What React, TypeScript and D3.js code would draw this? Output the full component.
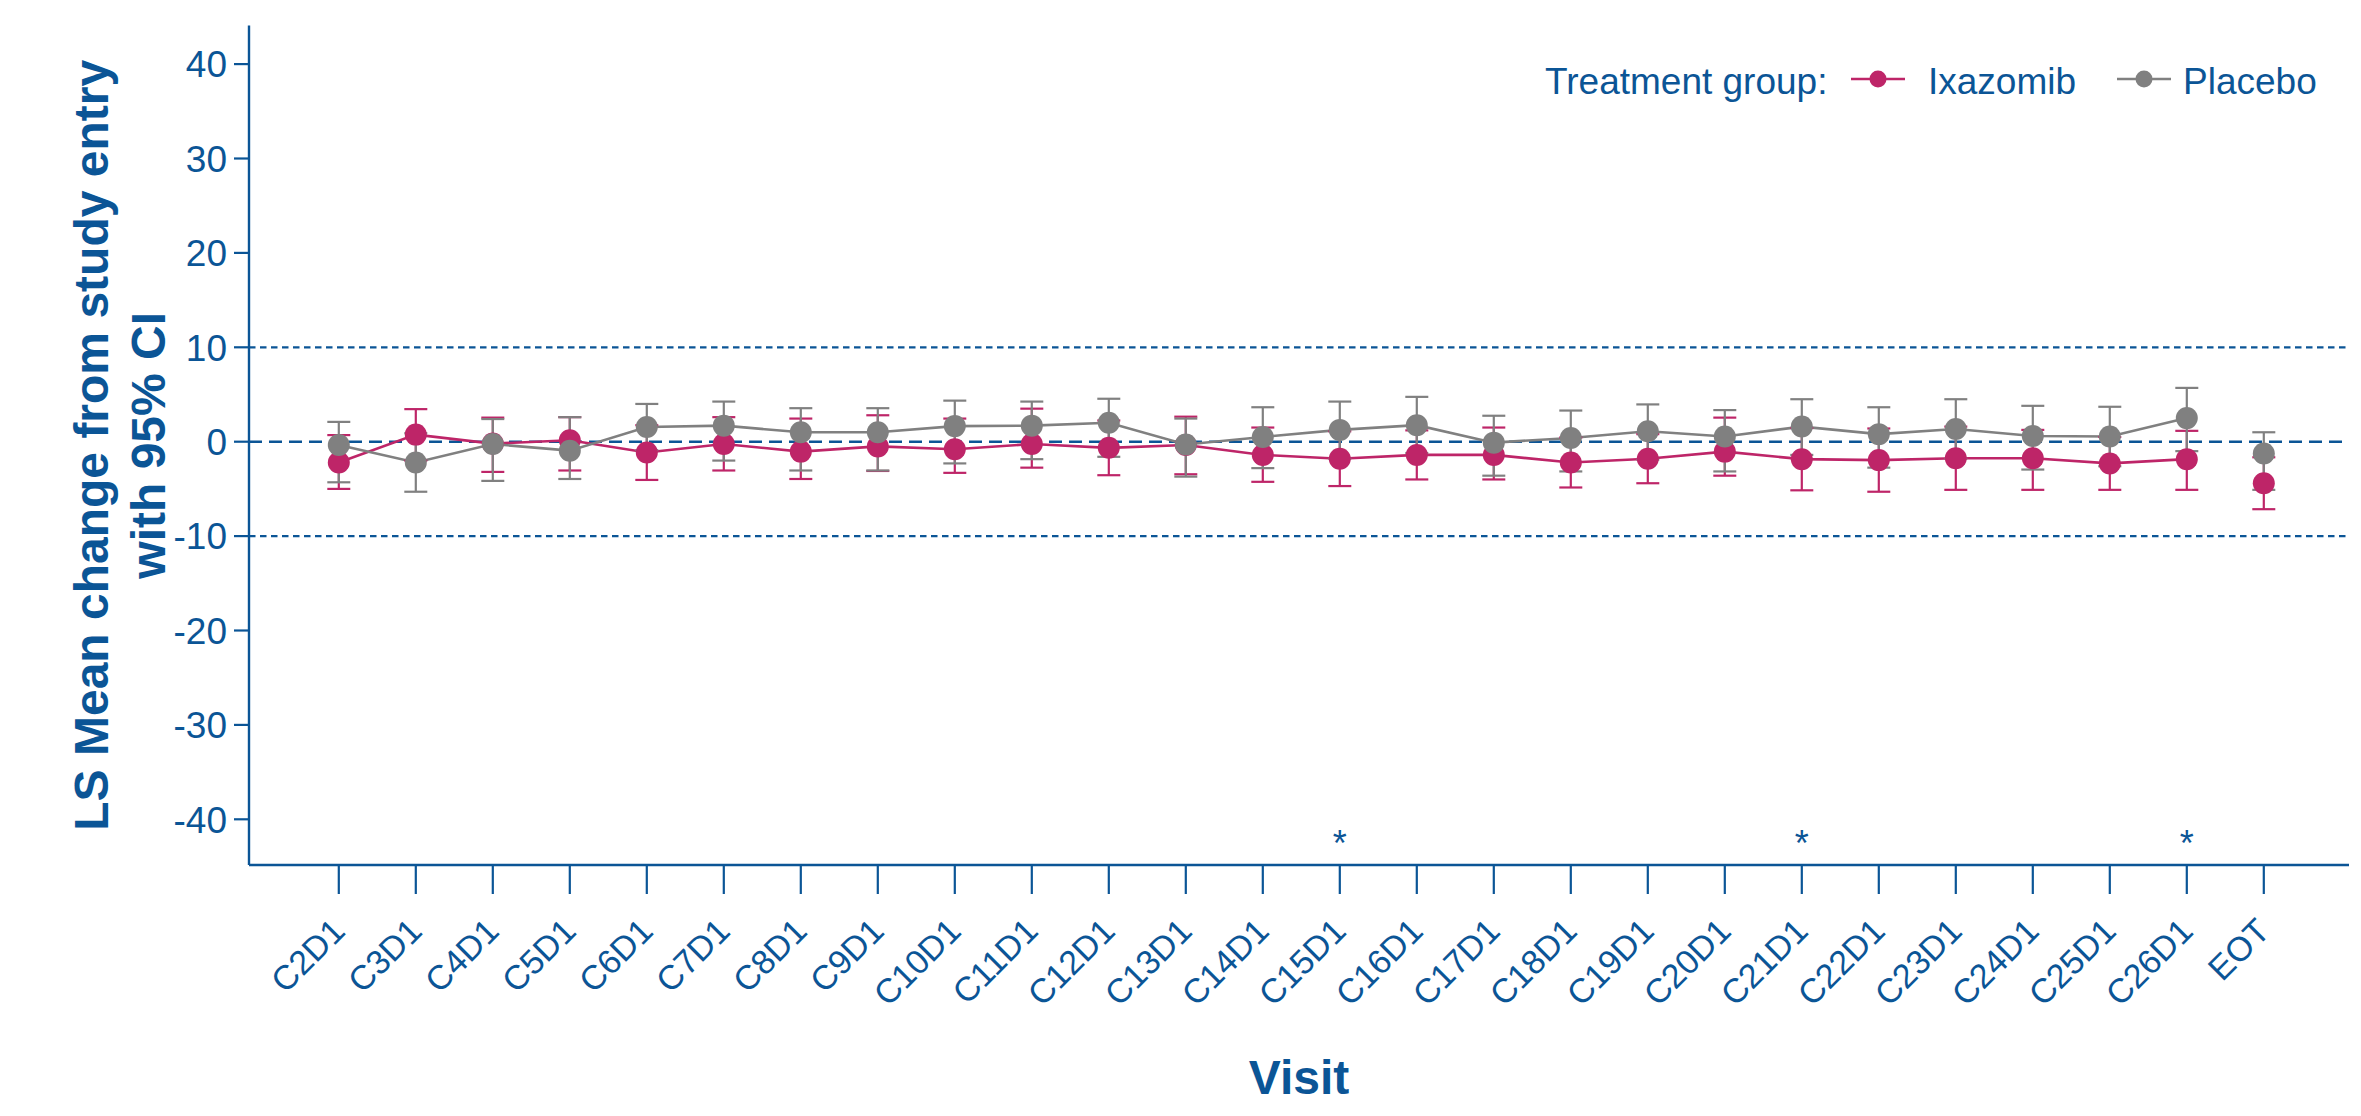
import React from "react";
import * as d3 from "d3";

const visits = ["C2D1","C3D1","C4D1","C5D1","C6D1","C7D1","C8D1","C9D1","C10D1","C11D1","C12D1","C13D1","C14D1","C15D1","C16D1","C17D1","C18D1","C19D1","C20D1","C21D1","C22D1","C23D1","C24D1","C25D1","C26D1","EOT"];

const ixaMean  = [-2.2, 0.75, -0.2, 0.15, -1.15, -0.25, -1.05, -0.5, -0.8, -0.25, -0.65, -0.35, -1.4, -1.8, -1.4, -1.4, -2.2, -1.8, -1.05, -1.85, -1.95, -1.75, -1.75, -2.3, -1.85, -4.4];
const ixaLower = [-5.0, -2.0, -3.2, -3.05, -4.05, -3.05, -3.95, -3.1, -3.3, -2.75, -3.55, -3.45, -4.25, -4.7, -4.0, -4.0, -4.85, -4.4, -3.6, -5.15, -5.3, -5.1, -5.1, -5.1, -5.1, -7.15];
const ixaUpper = [0.7, 3.45, 2.55, 2.6, 1.75, 2.6, 2.45, 2.8, 2.45, 3.5, 2.25, 2.65, 1.5, 1.1, 1.2, 1.5, 0.45, 0.8, 2.55, 1.45, 1.4, 1.6, 1.25, 0.5, 1.15, -1.65];

const plaMean  = [-0.35, -2.2, -0.25, -0.95, 1.55, 1.7, 1.0, 1.0, 1.65, 1.7, 2.0, -0.3, 0.5, 1.25, 1.75, -0.1, 0.4, 1.1, 0.55, 1.6, 0.8, 1.35, 0.6, 0.55, 2.5, -1.25];
const plaLower = [-4.3, -5.3, -4.15, -3.95, -0.9, -2.0, -3.05, -3.05, -2.3, -1.85, -1.6, -3.7, -2.8, -1.8, -1.2, -3.6, -3.15, -1.9, -3.15, -1.4, -2.75, -1.8, -2.95, -2.6, -1.0, -5.1];
const plaUpper = [2.1, 0.9, 2.4, 2.6, 4.0, 4.25, 3.55, 3.55, 4.35, 4.25, 4.55, 2.45, 3.65, 4.25, 4.75, 2.75, 3.3, 3.95, 3.35, 4.5, 3.65, 4.5, 3.8, 3.7, 5.7, 1.0];

const sigVisits = ["C15D1", "C21D1", "C26D1"];
const yTicks = [-40, -30, -20, -10, 0, 10, 20, 30, 40];
const refLines = [-10, 10];
const groupNames = ["Ixazomib", "Placebo"];
const legendTitle = "Treatment group:";
const yTitleLines = ["LS Mean change from study entry", "with 95% CI"];
const xTitle = "Visit";

const BLUE = "#0B5596";
const PINK = "#BE2568";
const GRAY = "#808080";
const FONT = "'Liberation Sans', Arial, Helvetica, sans-serif";

export default function App() {
  const W = 2361, H = 1116;
  const x = d3.scalePoint<string>().domain(visits).range([338.8, 2263.8]);
  const y = d3.scaleLinear().domain([-40, 40]).range([819.3, 64.1]);
  const axisLeft = 249, axisRight = 2349;
  const axisTop = 25.6, axisBottom = 865;

  const series = [
    { name: groupNames[0], color: PINK, mean: ixaMean, lo: ixaLower, hi: ixaUpper },
    { name: groupNames[1], color: GRAY, mean: plaMean, lo: plaLower, hi: plaUpper },
  ];

  const line = d3.line<number>().x((_, i) => x(visits[i])!).y((d) => y(d));
  const cap = 11.5;
  const legendPos = [
    { cx: 1878, tx: 1928 },
    { cx: 2144, tx: 2183 },
  ];

  return (
    <svg width={W} height={H} style={{ position: "absolute", left: 0, top: 0, background: "#fff" }} fontFamily={FONT}>
      {refLines.map((v) => (
        <line key={v} x1={axisLeft} x2={axisRight} y1={y(v)} y2={y(v)} stroke={BLUE} strokeWidth={2.2} strokeDasharray="6.5,4.5" />
      ))}
      <line x1={axisLeft} x2={axisRight} y1={y(0)} y2={y(0)} stroke={BLUE} strokeWidth={2.6} strokeDasharray="13,7" />

      {series.map((s) => (
        <path key={s.name} d={line(s.mean.slice(0, visits.length - 1)) || ""} fill="none" stroke={s.color} strokeWidth={2.6} />
      ))}
      {series.map((s) => (
        <g key={s.name + "eb"} stroke={s.color} strokeWidth={2.2}>
          {visits.map((v, i) => (
            <g key={v}>
              <line x1={x(v)} x2={x(v)} y1={y(s.lo[i])} y2={y(s.hi[i])} />
              <line x1={x(v)! - cap} x2={x(v)! + cap} y1={y(s.lo[i])} y2={y(s.lo[i])} />
              <line x1={x(v)! - cap} x2={x(v)! + cap} y1={y(s.hi[i])} y2={y(s.hi[i])} />
            </g>
          ))}
        </g>
      ))}
      {series.map((s) => (
        <g key={s.name + "pt"} fill={s.color}>
          {visits.map((v, i) => (
            <circle key={v} cx={x(v)} cy={y(s.mean[i])} r={11} />
          ))}
        </g>
      ))}

      {sigVisits.map((v) => (
        <text key={v} x={x(v)} y={y(-41.7)} dy="0.58em" textAnchor="middle" fontSize={36} fill={BLUE}>*</text>
      ))}

      <line x1={axisLeft} x2={axisLeft} y1={axisTop} y2={axisBottom} stroke={BLUE} strokeWidth={2.4} />
      <line x1={axisLeft} x2={axisRight} y1={axisBottom} y2={axisBottom} stroke={BLUE} strokeWidth={2.4} />
      {yTicks.map((t) => (
        <g key={t}>
          <line x1={axisLeft - 15} x2={axisLeft} y1={y(t)} y2={y(t)} stroke={BLUE} strokeWidth={2.2} />
          <text x={axisLeft - 22} y={y(t)} dy="0.36em" textAnchor="end" fontSize={37} fill={BLUE}>{t}</text>
        </g>
      ))}
      {visits.map((v) => (
        <g key={v}>
          <line x1={x(v)} x2={x(v)} y1={axisBottom} y2={axisBottom + 29} stroke={BLUE} strokeWidth={2.2} />
          <text transform={`translate(${x(v)! + 8},${933}) rotate(-45)`} textAnchor="end" fontSize={34} fill={BLUE}>{v}</text>
        </g>
      ))}

      <text x={(axisLeft + axisRight) / 2} y={1094} textAnchor="middle" fontSize={48} fontWeight="bold" fill={BLUE}>{xTitle}</text>
      {yTitleLines.map((t, i) => (
        <text key={t} transform={`translate(${108 + i * 57},${(axisTop + axisBottom) / 2}) rotate(-90)`} textAnchor="middle" fontSize={48} fontWeight="bold" fill={BLUE}>{t}</text>
      ))}

      <text x={1545} y={94} fontSize={37} fill={BLUE}>{legendTitle}</text>
      {series.map((s, i) => {
        const { cx, tx } = legendPos[i];
        return (
          <g key={s.name + "lg"}>
            <line x1={cx - 27} x2={cx + 27} y1={79} y2={79} stroke={s.color} strokeWidth={2.6} />
            <circle cx={cx} cy={79} r={8.5} fill={s.color} />
            <text x={tx} y={94} fontSize={37} fill={BLUE}>{s.name}</text>
          </g>
        );
      })}
    </svg>
  );
}
